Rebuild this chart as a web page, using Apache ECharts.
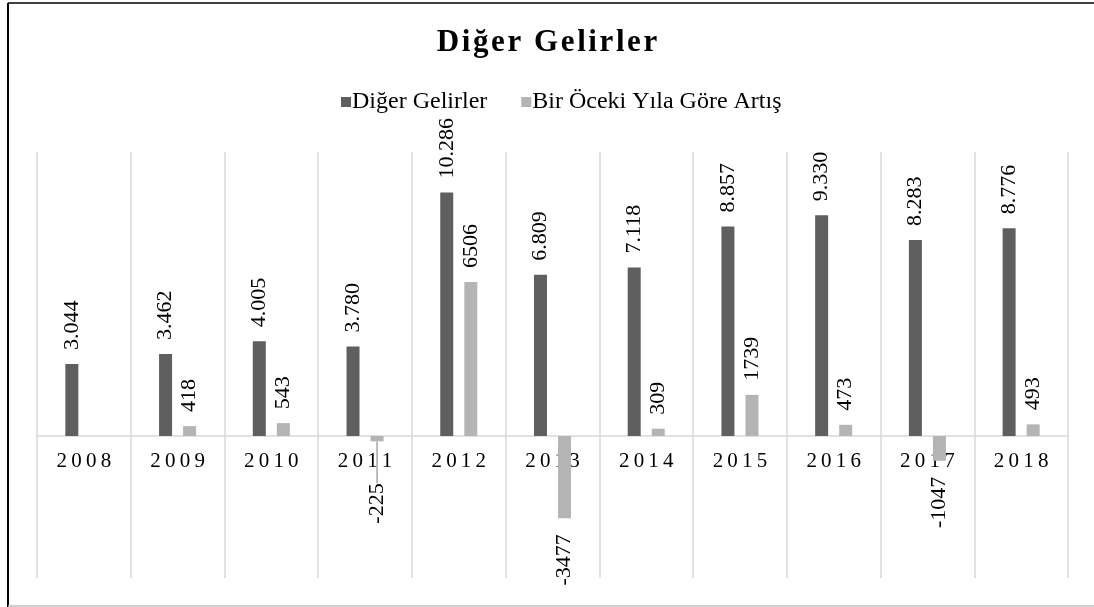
<!DOCTYPE html>
<html>
<head>
<meta charset="utf-8">
<script src="https://cdn.jsdelivr.net/npm/echarts@6/dist/echarts.min.js"></script>
<style>
  html, body { margin: 0; padding: 0; background: #fff; }
  #chart { width: 1094px; height: 607px; }
</style>
</head>
<body>
<div id="chart"></div>
<script>
var years = ['2008', '2009', '2010', '2011', '2012', '2013', '2014', '2015', '2016', '2017', '2018']
var digerGelirler = [3044, 3462, 4005, 3780, 10286, 6809, 7118, 8857, 9330, 8283, 8776]
var artis = [null, 418, 543, -225, 6506, -3477, 309, 1739, 473, -1047, 493]

var serif = '"Liberation Serif", "Times New Roman", serif'

function spaced(s, sp) {
  return s.split('').join(sp)
}
function thousands(n) {
  return String(n).replace(/\B(?=(\d{3})+(?!\d))/g, '.')
}

// negatif degerler icin etiket cubugun altina
var artisData = artis.map(function(v, i) {
  if (v === null || v >= 0) return v
  var item = {
    value: v,
    label: {
      position: 'bottom',
      align: 'right',
      distance: 16
    }
  }
  if (v > -500) {
    item.label.distance = 42
    item.labelLine = { show: true, lineStyle: { color: '#a6a6a6', width: 1.5 } }
  }
  return item
})

var chart = echarts.init(document.getElementById('chart'))
var option = {
  backgroundColor: '#fff',
  animation: false,
  title: {
    text: spaced('Diğer Gelirler', '\u200A'),
    left: 'center',
    top: 22,
    textStyle: {
      fontFamily: serif,
      fontWeight: 'bold',
      fontSize: 31,
      color: '#000'
    }
  },
  legend: {
    top: 85,
    left: 336,
    itemWidth: 10,
    itemHeight: 10,
    itemGap: 34,
    icon: 'rect',
    textStyle: {
      fontFamily: serif,
      fontSize: 24,
      color: '#000',
      padding: [0, 0, 0, -4]
    },
    data: ['Diğer Gelirler', 'Bir Öceki Yıla Göre Artış']
  },
  grid: {
    left: 37,
    right: 26,
    top: 152,
    bottom: 29,
    outerBoundsMode: 'none'
  },
  xAxis: {
    type: 'category',
    data: years,
    offset: -142,
    axisLine: { onZero: false, lineStyle: { color: '#d9d9d9', width: 1.5 } },
    axisTick: { show: false },
    splitLine: { show: true, lineStyle: { color: '#d9d9d9', width: 1.5 } },
    axisLabel: {
      margin: 15,
      fontFamily: serif,
      fontSize: 21,
      color: '#000',
      formatter: function(v) { return spaced(v, '\u2009') }
    }
  },
  yAxis: {
    type: 'value',
    min: -6000,
    max: 12000,
    show: false
  },
  series: [
    {
      name: 'Diğer Gelirler',
      type: 'bar',
      barWidth: 13,
      barGap: '85%',
      itemStyle: { color: '#5f5f5f' },
      label: {
        show: true,
        position: 'top',
        distance: 14,
        rotate: 90,
        align: 'left',
        verticalAlign: 'middle',
        fontFamily: serif,
        fontSize: 22,
        color: '#000',
        formatter: function(p) { return thousands(p.value) }
      },
      data: digerGelirler
    },
    {
      name: 'Bir Öceki Yıla Göre Artış',
      type: 'bar',
      barWidth: 13,
      barGap: '85%',
      itemStyle: { color: '#b4b4b4' },
      label: {
        show: true,
        position: 'top',
        distance: 14,
        rotate: 90,
        align: 'left',
        verticalAlign: 'middle',
        fontFamily: serif,
        fontSize: 22,
        color: '#000'
      },
      labelLine: { show: false },
      data: artisData
    }
  ],
  graphic: [
    { type: 'line', shape: { x1: 8, y1: 3, x2: 8, y2: 607 }, style: { stroke: '#000', lineWidth: 2 } },
    { type: 'line', shape: { x1: 8, y1: 3, x2: 1094, y2: 3 }, style: { stroke: '#000', lineWidth: 1.5 } },
    { type: 'line', shape: { x1: 8, y1: 606, x2: 1094, y2: 606 }, style: { stroke: '#bfbfbf', lineWidth: 1.5 } }
  ]
}
chart.setOption(option)
</script>
</body>
</html>
